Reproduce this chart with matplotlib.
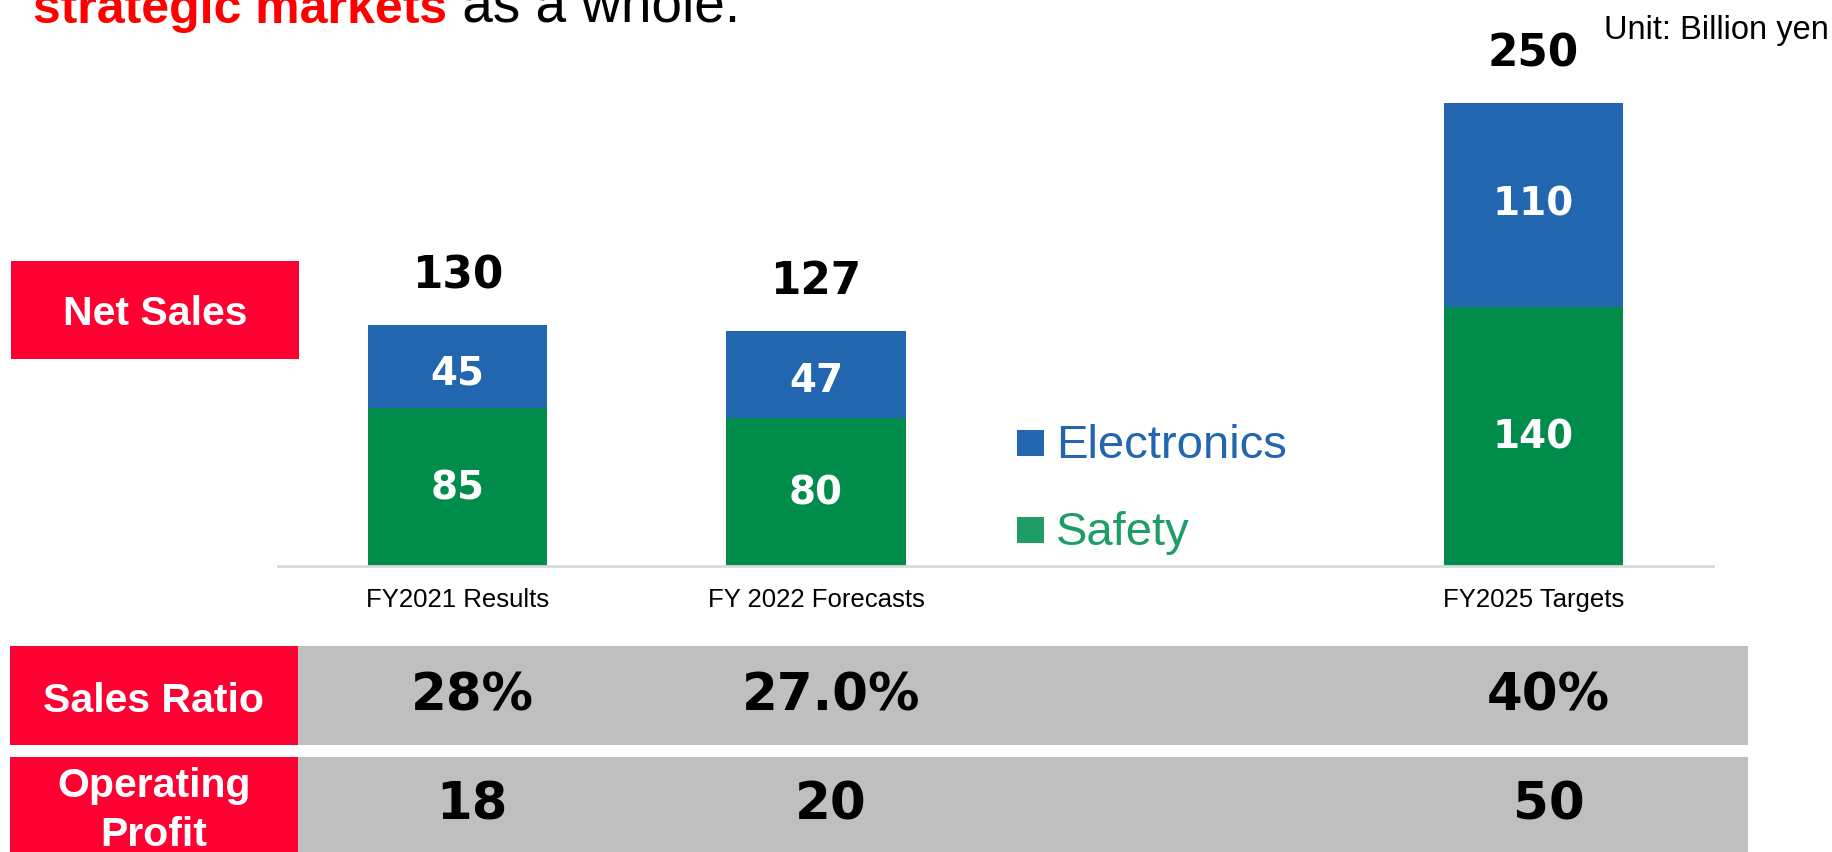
"""Net sales of strategic markets: stacked bars plus ratio / profit rows."""
import matplotlib.pyplot as plt
import matplotlib.transforms as mtransforms
from matplotlib.patches import Rectangle

plt.rcParams['font.family'] = ['Liberation Sans', 'DejaVu Sans']

# ---- data (billion yen) ----
categories = ["FY2021 Results", "FY 2022 Forecasts", "FY2025 Targets"]
positions = [0, 1, 3]
safety = [85, 80, 140]
electronics = [45, 47, 110]
totals = [130, 127, 250]
sales_ratio = ["28%", "27.0%", "40%"]
operating_profit = [18, 20, 50]

BLUE = "#2166AE"
GREEN = "#008C4A"
GREEN_LEGEND = "#1E9D66"
RED = "#FF0033"
GREY = "#BFBFBF"
NUM_FONT = "DejaVu Sans"

W, H = 1833, 852
fig = plt.figure(figsize=(W / 100, H / 100), dpi=100)

# background layer in pixel coordinates for the row boxes
bg = fig.add_axes([0, 0, 1, 1], zorder=0)
bg.set_xlim(0, W)
bg.set_ylim(H, 0)
bg.axis('off')

# main bar axes
ax = fig.add_axes([278 / W, 1 - 566 / H, 1435 / W, 519 / H], zorder=1)
ax.set_facecolor('none')
ax.set_xlim(-0.5, 3.5)
ax.set_ylim(0, 280)

bar_w = 0.5
ax.bar(positions, safety, width=bar_w, color=GREEN, zorder=2)
ax.bar(positions, electronics, width=bar_w, bottom=safety, color=BLUE, zorder=2)

for x, s, e, t in zip(positions, safety, electronics, totals):
    ax.annotate(f"{s}", xy=(x, s / 2), xytext=(0, -1), textcoords='offset points',
                ha='center', va='center', color='white',
                fontsize=28, fontweight='bold', family=NUM_FONT)
    # short segments get their label nudged down a bit
    nudge = -5 if e < 60 else 0
    ax.annotate(f"{e}", xy=(x, s + e / 2), xytext=(0, nudge), textcoords='offset points',
                ha='center', va='center', color='white',
                fontsize=28, fontweight='bold', family=NUM_FONT)
    ax.annotate(f"{t}", xy=(x, t), xytext=(0, 35), textcoords='offset points',
                ha='center', va='center', fontsize=31.5, fontweight='bold',
                family=NUM_FONT, annotation_clip=False)

for side in ['top', 'right', 'left']:
    ax.spines[side].set_visible(False)
ax.spines['bottom'].set_color('#D9D9D9')
ax.spines['bottom'].set_linewidth(2)
ax.set_yticks([])
ax.set_xticks(positions)
ax.set_xticklabels(categories, fontsize=18.5)
ax.tick_params(axis='x', length=0, pad=16)

# legend drawn by hand in the empty slot
for label, col, y in [("Electronics", BLUE, 446), ("Safety", GREEN_LEGEND, 533)]:
    bg.add_patch(Rectangle((1017, y - 16), 27, 26, color=col, lw=0))
    bg.text(1056, y, label, color=col, fontsize=34, va='center', ha='left')

# title line (its upper part runs off the top edge)
t1 = fig.text(33 / W, 1 - 33 / H, "strategic markets", color="#FF0000",
              fontsize=36, fontweight='bold', va='bottom', ha='left')
bg.annotate(" as a whole.", xy=(1, 0), xycoords=t1, va='bottom', ha='left',
            fontsize=39.5, color='black')

fig.text(1829 / W, 1 - 31 / H, "Unit: Billion yen", fontsize=23.5,
         ha='right', va='center')

# row headers and value rows
bg.add_patch(Rectangle((11, 261), 288, 98, color=RED, lw=0))
bg.text(155, 314, "Net Sales", color='white', fontsize=29.5, fontweight='bold',
        ha='center', va='center')

rows = [("Sales Ratio", sales_ratio, 646, 99, 6, 1),
        ("Operating\nProfit", [str(v) for v in operating_profit], 757, 99, 4, -1)]
col_shift = mtransforms.ScaledTranslation(15 / 100, 0, fig.dpi_scale_trans)
col_trans = mtransforms.blended_transform_factory(ax.transData, bg.transData) + col_shift
for head, vals, top, h, dy, dv in rows:
    bg.add_patch(Rectangle((10, top), 288, h, color=RED, lw=0))
    bg.add_patch(Rectangle((298, top), 1450, h, color=GREY, lw=0))
    bg.text(154, top + h / 2 + dy, head, color='white', fontsize=29.5,
            fontweight='bold', ha='center', va='center', linespacing=1.35)
    for x, v in zip(positions, vals):
        bg.text(x, top + h / 2 + dv, v, transform=col_trans, ha='center',
                va='center', fontsize=37, fontweight='bold', family=NUM_FONT)

fig.savefig("out.png", dpi=100)
